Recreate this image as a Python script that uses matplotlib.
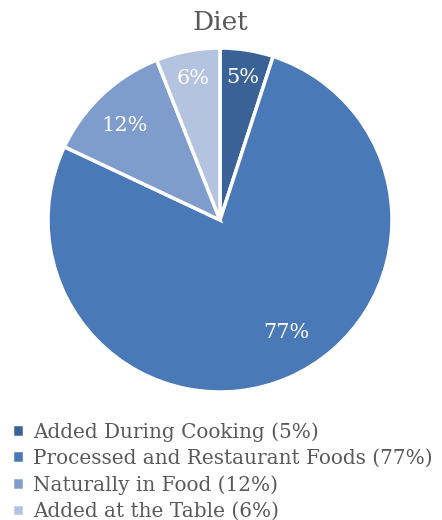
import numpy as np
import matplotlib.pyplot as plt

labels = ["Added During Cooking", "Processed and Restaurant Foods",
          "Naturally in Food", "Added at the Table"]
values = [5, 77, 12, 6]
colors = ["#3B6296", "#4979B6", "#7E9CCC", "#B4C3E0"]

plt.rcParams["font.family"] = ["DejaVu Serif"]

fig = plt.figure(figsize=(4.42, 5.2), dpi=100)

# pie axes, centered at ~(220, 220) px with radius ~172 px
ax = fig.add_axes([48 / 442, 128 / 520, 344 / 442, 344 / 520])
wedges, texts, autotexts = ax.pie(
    values, colors=colors, startangle=90, counterclock=False,
    autopct="%1.0f%%", pctdistance=0.8,
    wedgeprops=dict(edgecolor="white", linewidth=2.5),
    textprops=dict(color="white", fontsize=15),
)

# best-fit style label placement: radial distance and angle shift per slice
label_dist = [0.84, 0.76, 0.78, 0.84]
label_shift = [0, 7, 2, 0]
for w, t, d, s in zip(wedges, autotexts, label_dist, label_shift):
    mid = np.deg2rad((w.theta1 + w.theta2) / 2 + s)
    t.set_position((d * np.cos(mid), d * np.sin(mid)))

ax.set_xlim(-1, 1)
ax.set_ylim(-1, 1)
ax.set_aspect("equal")

fig.text(220 / 442, 1 - 22 / 520, "Diet", ha="center", va="center",
         fontsize=19, color="#595959")

leg_labels = [f"{l} ({v}%)" for l, v in zip(labels, values)]
fig.legend(wedges, leg_labels, loc="upper left",
           bbox_to_anchor=(12 / 442, 1 - 422 / 520),
           frameon=False, fontsize=14.4, labelcolor="#595959",
           handlelength=0.6, handleheight=0.6, handletextpad=0.45,
           labelspacing=0.36, borderpad=0, borderaxespad=0)

fig.savefig("out.png", dpi=100)
